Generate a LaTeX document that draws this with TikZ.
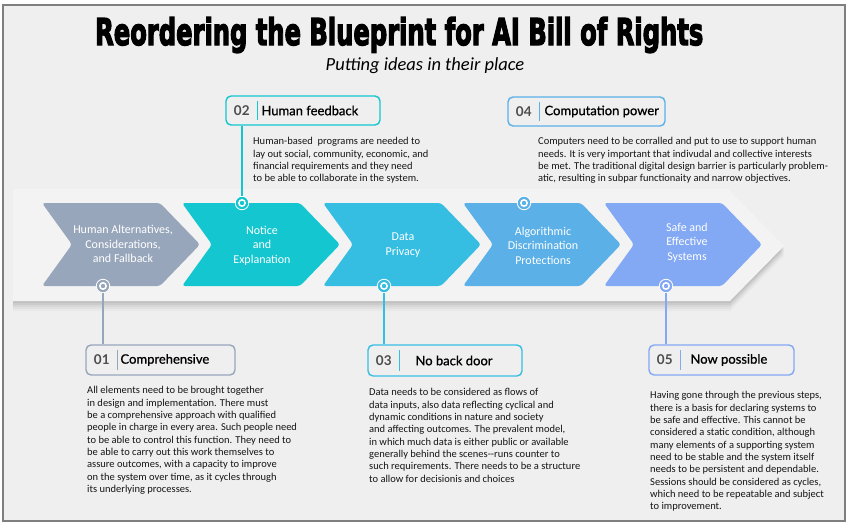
\documentclass[tikz,border=0pt]{standalone}
\usepackage{fontspec}
\setmainfont{Carlito}
\newfontfamily\titlefont[FakeBold=4]{DejaVu Sans Bold}
\newfontfamily\headfont[FakeBold=0.8]{Lato}
\newfontfamily\numfont{Lato}
\usetikzlibrary{calc}
\definecolor{bgc}{HTML}{EFEFEF}
\definecolor{framec}{HTML}{7F7F7F}
\definecolor{ca}{HTML}{97A6BB}
\definecolor{cb}{HTML}{13C6CF}
\definecolor{cc}{HTML}{36BEE2}
\definecolor{cd}{HTML}{5BB0E8}
\definecolor{ce}{HTML}{83A8F4}
\definecolor{numc}{HTML}{4D4D4D}
\definecolor{txtc}{HTML}{151515}
\tikzset{
  chevtext/.style={text=white, align=center, font=\fontsize{12}{14.5}\selectfont, inner sep=0pt},
  callbox/.style={draw=#1, line width=1.4pt, rounded corners=5pt, fill=bgc, inner sep=0pt},
  numtext/.style={font=\numfont\bfseries\fontsize{13.5}{14}\selectfont, text=numc, inner sep=0pt},
  headtext/.style={font=\headfont\fontsize{13}{14}\selectfont, text=black, anchor=west, inner sep=0pt},
  bodytext/.style={font=\fontsize{10.5}{12.3}\selectfont, text=txtc, align=left, anchor=north west, inner sep=0pt},
  ring/.style={circle, fill=#1, draw=white, line width=0.8pt, minimum size=13.5pt, inner sep=0pt,
    path picture={\fill[white] (path picture bounding box.center) circle (4pt);
                  \fill[#1] (path picture bounding box.center) circle (2.2pt);}},
  link/.style={draw=#1, line width=1.4pt}
}
\begin{document}
\begin{tikzpicture}[x=1pt,y=-1pt]
\useasboundingbox (0,0) rectangle (851,525);
\fill[white] (0,0) rectangle (851,525);
\fill[bgc] (3,5) rectangle (845,521);
\draw[framec, line width=2pt] (3,5) rectangle (845,521);

% title
\node[inner sep=0pt, anchor=base west] (title) at (95,45) {\resizebox{608pt}{28pt}{\titlefont Reordering the Blueprint for AI Bill of Rights}};
\node[inner sep=0pt, anchor=base] (subtitle) at (425,70.5) {\fontsize{18.5}{20}\selectfont\itshape Putting ideas in their place};

% band behind chevrons
\foreach \o/\op in {10/0.05,8/0.07,6/0.09,4/0.11,2/0.13}{
  \fill[black, opacity=\op*0.45] (13,{189+\o}) -- (728,{189+\o}) -- (784,{246+\o}) -- (730,{301+\o}) -- (13,{301+\o}) -- cycle;
}
\fill[white!25!bgc] (13,189) -- (728,189) -- (784,246) -- (730,301) -- (13,301) -- cycle;

% chevrons
\foreach \L/\c in {42/ca,182/cb,323/cc,463/cd,604/ce}{
  \fill[\c, rounded corners=3pt] (\L,203) -- ++(118,0) -- ++(40,41.5) -- ++(-40,41.5) -- ++(-118,0) -- ++(30,-41.5) -- cycle;
}
\node[chevtext] (t1) at (123,244) {Human Alternatives,\\Considerations,\\and Fallback};
\node[chevtext] (t2) at (262,245.5) {Notice\\and\\Explanation};
\node[chevtext] (t3) at (403,245) {Data\\Privacy};
\node[chevtext] (t4) at (543,245.5) {Algorithmic\\Discrimination\\Protections};
\node[chevtext] (t5) at (687,242.5) {Safe and\\Effective\\Systems};

% boxes
\node[callbox=ca, minimum width=149pt, minimum height=30pt] (b1) at (160.5,360) {};
\node[callbox=cb, minimum width=154pt, minimum height=29pt] (b2) at (303,110.5) {};
\node[callbox=cc, minimum width=154pt, minimum height=31pt] (b3) at (445,360.5) {};
\node[callbox=cd, minimum width=157pt, minimum height=29pt] (b4) at (586.5,111.5) {};
\node[callbox=ce, minimum width=145pt, minimum height=30pt] (b5) at (721.5,360) {};

% rings
\node[ring=ca] (c1) at (103,286) {};
\node[ring=cb] (c2) at (242,203) {};
\node[ring=cc] (c3) at (384,286) {};
\node[ring=cd] (c4) at (524,203) {};
\node[ring=ce] (c5) at (666,286) {};

% connectors
\draw[link=ca] (c1) -- (c1 |- b1.north);
\draw[link=cb] (c2) -- (c2 |- b2.south);
\draw[link=cc] (c3) -- (c3 |- b3.north);
\draw[link=ce] (c5) -- (c5 |- b5.north);

% box contents
\foreach \b/\c/\n/\h/\hx in {b1/ca/01/Comprehensive/35, b2/cb/02/Human feedback/36, b3/cc/03/No back door/48, b4/cd/04/Computation power/37, b5/ce/05/Now possible/42}{
  \node[numtext] (\b num) at ($(\b.west)+(16.5,0)$) {\n};
  \draw[\c, line width=1.2pt] ($(\b.north west)+(32,6)$) -- ($(\b.south west)+(32,-6)$);
  \node[headtext] (\b head) at ($(\b.west)+(\hx,0)$) {\h};
}

% body texts
\node[bodytext] (p1) at (87,386.5) {All elements need to be brought together\\in design and implementation. There must\\be a comprehensive approach with qualified\\people in charge in every area. Such people need\\to be able to control this function. They need to\\be able to carry out this work themselves to\\assure outcomes, with a capacity to improve\\on the system over time, as it cycles through\\its underlying processes.};
\node[bodytext] (p2) at (253,137.5) {Human-based\ \ programs are needed to\\lay out social, community, economic, and\\financial requirements and they need\\to be able to collaborate in the system.};
\node[bodytext] (p3) at (369,388.5) {Data needs to be considered as flows of\\data inputs, also data reflecting cyclical and\\dynamic conditions in nature and society\\and affecting outcomes. The prevalent model,\\in which much data is either public or available\\generally behind the scenes-{}-runs counter to\\such requirements. There needs to be a structure\\to allow for decisionis and choices};
\node[bodytext] (p4) at (538,137.5) {Computers need to be corralled and put to use to support human\\needs. It is very important that indivudal and collective interests\\be met. The traditional digital design barrier is particularly problem-\\atic, resulting in subpar functionaity and narrow objectives.};
\node[bodytext] (p5) at (650,391.5) {Having gone through the previous steps,\\there is a basis for declaring systems to\\be safe and effective. This cannot be\\considered a static condition, although\\many elements of a supporting system\\need to be stable and the system itself\\needs to be persistent and dependable.\\Sessions should be considered as cycles,\\which need to be repeatable and subject\\to improvement.};
\end{tikzpicture}
\end{document}
